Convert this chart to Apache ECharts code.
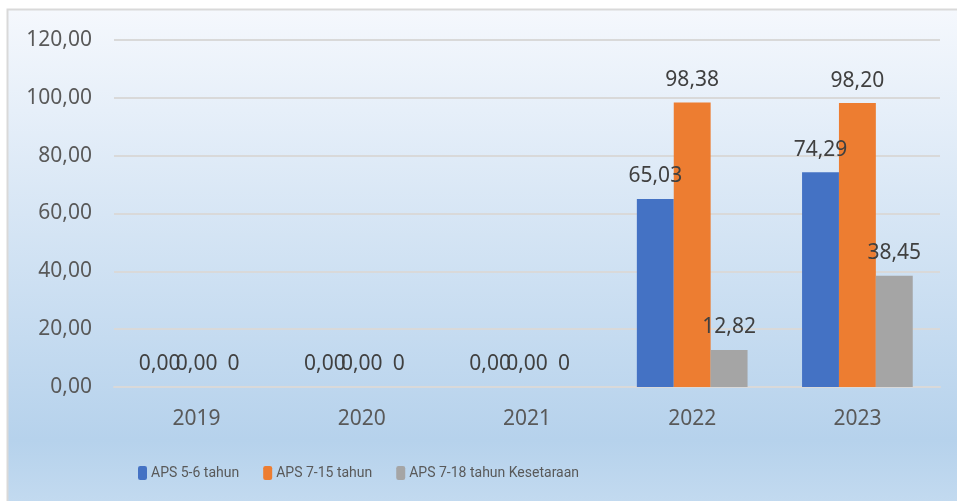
<!DOCTYPE html>
<html>
<head>
<meta charset="utf-8">
<script src="https://cdn.jsdelivr.net/npm/echarts@6/dist/echarts.min.js"></script>
<style>
  html, body { margin: 0; padding: 0; background: #fff; }
  #aps_bar { width: 957px; height: 501px; }
</style>
</head>
<body>
<div id="aps_bar"></div>
<script>
// tahun
var years = ['2019', '2020', '2021', '2022', '2023'];
// nama seri
var seriesNames = ['APS 5-6 tahun', 'APS 7-15 tahun', 'APS 7-18 tahun Kesetaraan'];
// nilai per seri
var aps56 = [0, 0, 0, 65.03, 74.29];
var aps715 = [0, 0, 0, 98.38, 98.20];
var aps718 = [0, 0, 0, 12.82, 38.45];
var colors = ['#4472c4', '#ed7d31', '#a5a5a5'];

function fmt(v) { return v.toFixed(2).replace('.', ','); }

var dom = document.getElementById('aps_bar');
var myChart = echarts.init(dom);

function makeSeries(name, data, idx) {
  return {
    name: name,
    type: 'bar',
    data: data,
    barGap: 0,
    barCategoryGap: '33%',
    itemStyle: { color: colors[idx] },
    label: {
      show: true,
      position: 'top',
      distance: 12,
      fontFamily: 'Noto Sans',
      fontSize: 21,
      color: '#404040',
      formatter: function (p) {
        if (idx == 2 && p.value == 0) return '0'; // seri ketiga pakai format umum
        return fmt(p.value);
      }
    }
  };
}

var option = {
  animation: false,
  textStyle: { fontFamily: 'Noto Sans' },
  graphic: [{
    type: 'rect',
    z: -10,
    silent: true,
    shape: { x: 7.5, y: 9.5, width: 960, height: 500 },
    style: {
      stroke: '#d9d9d9',
      lineWidth: 2,
      fill: new echarts.graphic.LinearGradient(0, 0, 0, 1, [
        { offset: 0, color: '#f5f8fd' },
        { offset: 0.86, color: '#b6d2ec' },
        { offset: 1, color: '#c4dbf0' }
      ])
    }
  }],
  grid: { left: 114, right: 17, top: 40, bottom: 114 },
  legend: {
    data: seriesNames,
    left: 133,
    top: 461,
    itemWidth: 9,
    itemHeight: 14,
    itemGap: 24,
    textStyle: { fontFamily: 'Roboto', fontSize: 14, color: '#595959', padding: [0, 0, 0, -1] }
  },
  xAxis: {
    type: 'category',
    data: years,
    axisTick: { show: false },
    axisLine: { lineStyle: { color: '#d9d9d9', width: 2 } },
    axisLabel: { color: '#595959', fontSize: 21, margin: 22 }
  },
  yAxis: {
    type: 'value',
    min: 0,
    max: 120,
    interval: 20,
    axisLine: { show: false },
    axisTick: { show: false },
    splitLine: { lineStyle: { color: '#d9d9d9', width: 2 } },
    axisLabel: { color: '#595959', fontSize: 21, margin: 22, formatter: fmt }
  },
  series: [
    makeSeries(seriesNames[0], aps56, 0),
    makeSeries(seriesNames[1], aps715, 1),
    makeSeries(seriesNames[2], aps718, 2)
  ]
};
myChart.setOption(option, true);
</script>
</body>
</html>
